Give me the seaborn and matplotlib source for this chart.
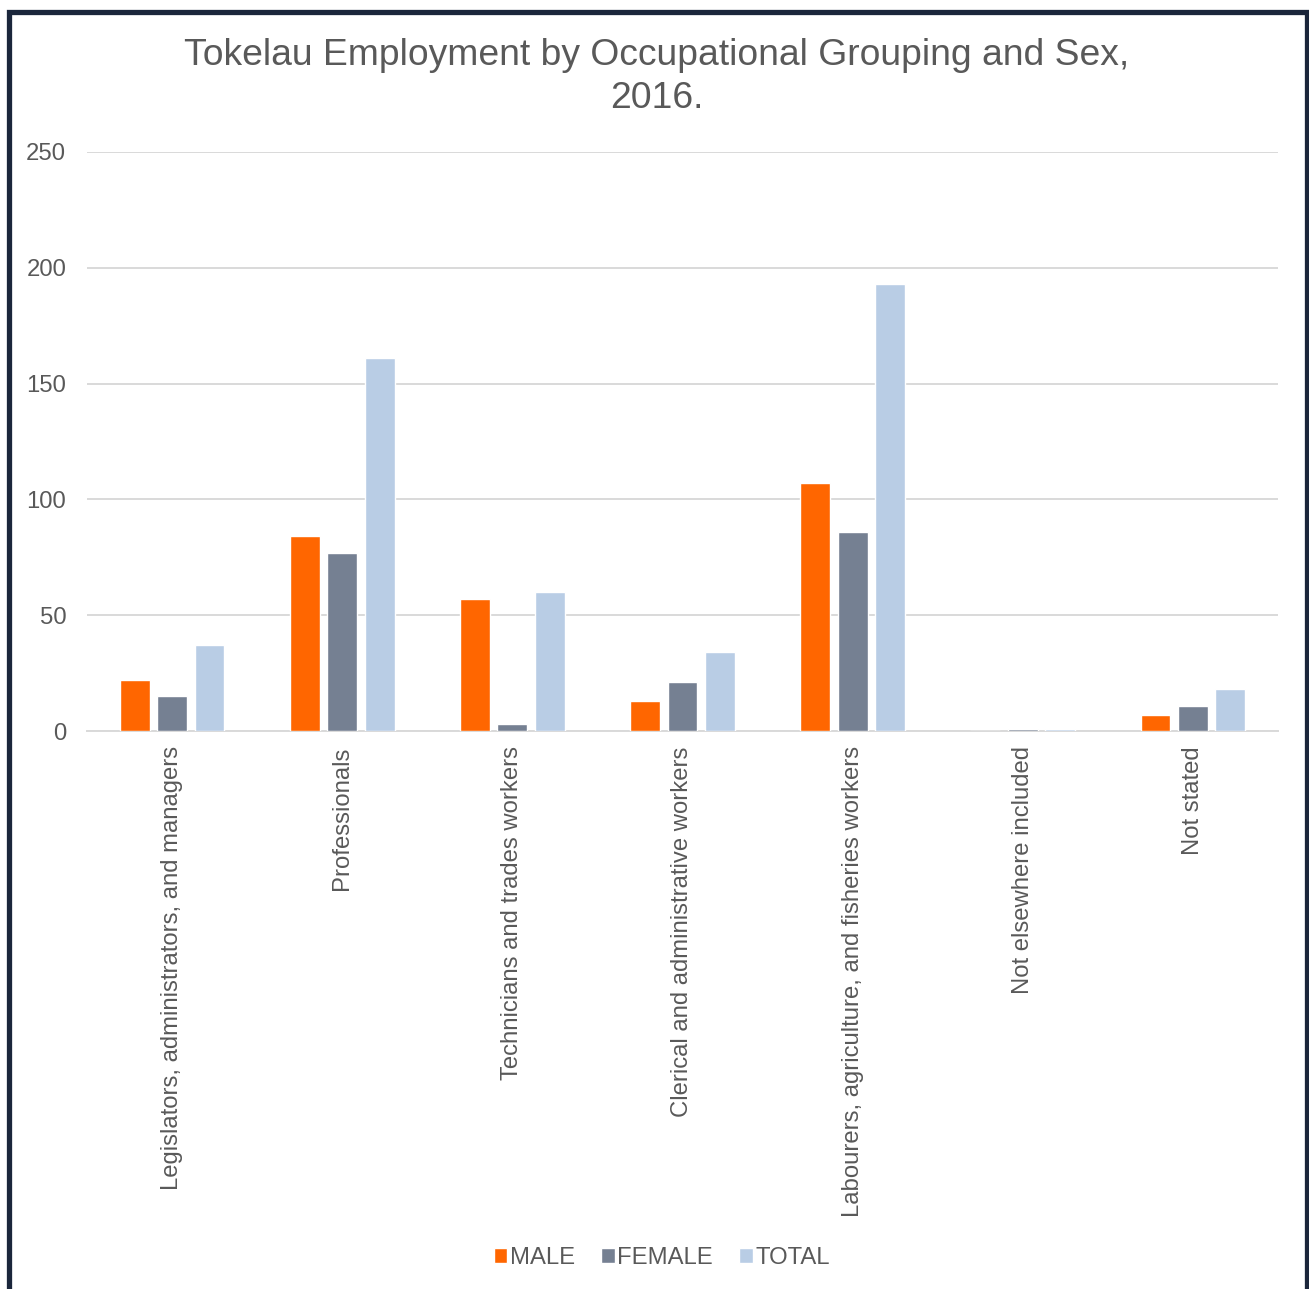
import matplotlib
matplotlib.use("Agg")
import matplotlib.pyplot as plt
from matplotlib.patches import Rectangle
import seaborn as sns
import pandas as pd

occupations = [
    "Legislators, administrators, and managers",
    "Professionals",
    "Technicians and trades workers",
    "Clerical and administrative workers",
    "Labourers, agriculture, and fisheries workers",
    "Not elsewhere included",
    "Not stated",
]
male = [22, 84, 57, 13, 107, 0, 7]
female = [15, 77, 3, 21, 86, 1, 11]
total = [37, 161, 60, 34, 193, 1, 18]
series_names = ["MALE", "FEMALE", "TOTAL"]
series_colors = ["#FF6600", "#758092", "#B9CDE5"]
y_ticks = [0, 50, 100, 150, 200, 250]

rows = []
for name, vals in zip(series_names, [male, female, total]):
    for occ, v in zip(occupations, vals):
        rows.append({"occupation": occ, "sex": name, "count": v})
df = pd.DataFrame(rows)

sns.set_theme(style="white")
plt.rcParams["font.family"] = ["Liberation Sans", "DejaVu Sans"]
text_color = "#595959"

fig = plt.figure(figsize=(13.09, 12.89), dpi=100)
ax = fig.add_axes([87 / 1309, 1 - 731 / 1289, (1278 - 87) / 1309, (731 - 152) / 1289])

sns.barplot(data=df, x="occupation", y="count", hue="sex", order=occupations,
            hue_order=series_names, palette=series_colors, saturation=1,
            width=0.66, gap=0.2, ax=ax, legend=True)
for p in ax.patches:
    p.set_zorder(3)

ax.set_ylim(0, 250)
ax.set_yticks(y_ticks)
ax.set_xlim(-0.5, len(occupations) - 0.5)
ax.yaxis.grid(True, color="#D9D9D9", linewidth=1.4)
ax.set_axisbelow(True)
for side in ["top", "right", "left"]:
    ax.spines[side].set_visible(False)
ax.spines["bottom"].set_color("#D9D9D9")
ax.spines["bottom"].set_linewidth(1.4)
ax.tick_params(axis="both", length=0, colors=text_color, labelsize=17.2)
ax.tick_params(axis="y", pad=15)
ax.tick_params(axis="x", pad=11)
ax.set_xticks(range(len(occupations)))
ax.set_xticklabels(occupations, rotation=90, va="top", ha="center")
ax.set_xlabel("")
ax.set_ylabel("")

fig.text(0.502, 1 - 77 / 1289, "Tokelau Employment by Occupational Grouping and Sex,\n2016.",
         ha="center", va="center", fontsize=26.8, color=text_color, linespacing=1.27)

handles, labels = ax.get_legend_handles_labels()
ax.get_legend().remove()
fig.legend(handles, labels, loc="center", bbox_to_anchor=(662 / 1309, 1 - 1258 / 1289),
           ncol=3, frameon=False, fontsize=17.2, labelcolor=text_color,
           handlelength=0.55, handleheight=0.55, handletextpad=0.12, columnspacing=1.1)

fig.add_artist(Rectangle((8.5 / 1309, -0.05), (1306.5 - 8.5) / 1309, 1.05 - 12.5 / 1289,
                         transform=fig.transFigure, fill=False, edgecolor="#1B263B",
                         linewidth=3.8, clip_on=False))

fig.savefig("out.png", dpi=100, facecolor="white")
